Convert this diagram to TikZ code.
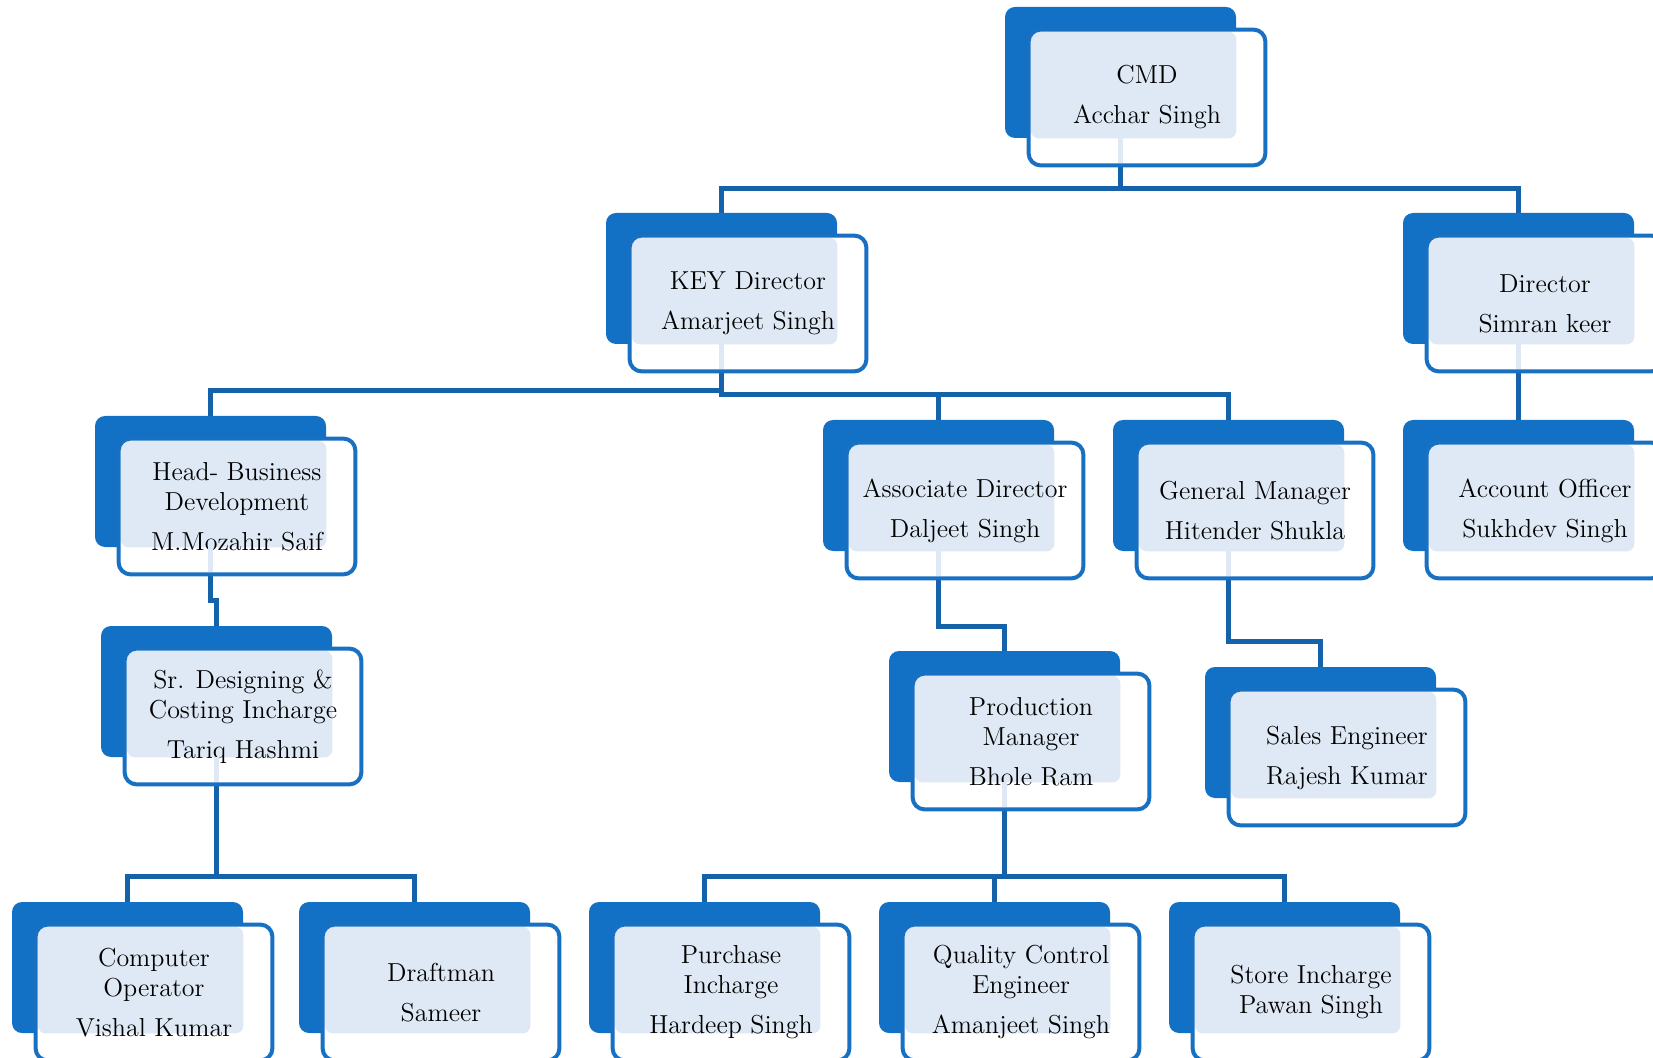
\documentclass[tikz,border=0pt]{standalone}
\usetikzlibrary{calc}
\definecolor{bk}{RGB}{18,112,197}
\definecolor{bd}{RGB}{24,112,194}
\definecolor{ln}{RGB}{22,98,170}
\definecolor{pt}{RGB}{222,233,245}
\pgfdeclarelayer{background}
\pgfsetlayers{background,main}
\tikzset{
  backbox/.style={fill=bk, rounded corners=5pt, minimum width=115.5pt, minimum height=65.5pt, inner sep=0pt},
  frontbox/.style={fill=white, rounded corners=6pt, minimum width=118pt, minimum height=67.5pt, inner sep=0pt},
  frontline/.style={draw=bd, line width=2pt, rounded corners=6pt},
  txt/.style={align=center, font=\fontsize{13}{15}\selectfont, text=black, inner sep=0pt},
  conn/.style={draw=ln, line width=2.5pt}
}
\newcommand\orgbox[4]{%
  \node[backbox] (#1b) at (#2+115.5,#3+65.5) {};
  \node[frontbox] (#1) at (#2+142,#3+90.5) {};
  \fill[pt, rounded corners=4pt] ($(#1.north west)+(1.1pt,-1.1pt)$) rectangle (#1b.south east);
  \draw[frontline] (#1.south west) rectangle (#1.north east);
  \node[txt] (#1t) at (#1.center) {#4};
}
\newcommand\orgstrip[1]{%
  \fill[pt] ($(#1b.south)+(-1.2pt,0)$) rectangle ($(#1b.south |- #1.south)+(1.2pt,1.1pt)$);
}
\begin{document}
\begin{tikzpicture}[x=0.5pt, y=-0.5pt]
\useasboundingbox (0,0) rectangle (1653,1058);
% boxes
\orgbox{cmd}{1005}{7}{CMD\\[5pt]Acchar Singh}
\orgbox{key}{606}{213}{KEY Director\\[5pt]Amarjeet Singh}
\orgbox{dir}{1403}{213}{Director\\[5pt]Simran keer}
\orgbox{hbd}{95}{416}{Head- Business\\Development\\[5pt]M.Mozahir Saif}
\orgbox{asd}{823}{420}{Associate Director\\[5pt]Daljeet Singh}
\orgbox{gm}{1113}{420}{General Manager\\[5pt]Hitender Shukla}
\orgbox{ao}{1403}{420}{Account Officer\\[5pt]Sukhdev Singh}
\orgbox{srd}{101}{626}{Sr. Designing \&\\Costing Incharge\\[5pt]Tariq Hashmi}
\orgbox{pm}{889}{651}{Production\\Manager\\[5pt]Bhole Ram}
\orgbox{se}{1205}{667}{Sales Engineer\\[5pt]Rajesh Kumar}
\orgbox{co}{12}{902}{Computer\\Operator\\[5pt]Vishal Kumar}
\orgbox{dr}{299}{902}{Draftman\\[5pt]Sameer}
\orgbox{pi}{589}{902}{Purchase\\Incharge\\[5pt]Hardeep Singh}
\orgbox{qc}{879}{902}{Quality Control\\Engineer\\[5pt]Amanjeet Singh}
\orgbox{si}{1169}{902}{Store Incharge\\Pawan Singh}
\orgstrip{cmd}\orgstrip{key}\orgstrip{dir}\orgstrip{hbd}
\orgstrip{asd}\orgstrip{gm}\orgstrip{srd}\orgstrip{pm}
% connectors
\begin{pgfonlayer}{background}
\draw[conn] (cmdb |- cmd.south) -- (cmdb |- 0,189) -- (keyb.north |- 0,189) -- (keyb.north);
\draw[conn] (cmdb |- 0,189) -- (dirb.north |- 0,189) -- (dirb.north);
\draw[conn] (keyb |- key.south) -- (keyb |- 0,391) -- (hbdb.north |- 0,391) -- (hbdb.north);
\draw[conn] (keyb |- 0,389) -- (keyb |- 0,395) -- (gmb.north |- 0,395) -- (gmb.north);
\draw[conn] (asdb.north |- 0,395) -- (asdb.north);
\draw[conn] (dirb |- dir.south) -- (aob.north);
\draw[conn] (hbdb |- hbd.south) -- (hbdb |- 0,600) -- (srdb.north |- 0,600) -- (srdb.north);
\draw[conn] (srdb |- srd.south) -- (srdb |- 0,876) -- (cob.north |- 0,876) -- (cob.north);
\draw[conn] (srdb |- 0,876) -- (drb.north |- 0,876) -- (drb.north);
\draw[conn] (asdb |- asd.south) -- (asdb |- 0,626) -- (pmb.north |- 0,626) -- (pmb.north);
\draw[conn] (gmb |- gm.south) -- (gmb |- 0,641) -- (seb.north |- 0,641) -- (seb.north);
\draw[conn] (pmb |- pm.south) -- (pmb |- 0,876) -- (pib.north |- 0,876) -- (pib.north);
\draw[conn] (pmb |- 0,876) -- (sib.north |- 0,876) -- (sib.north);
\draw[conn] (qcb.north |- 0,876) -- (qcb.north);
\end{pgfonlayer}
\end{tikzpicture}
\end{document}
